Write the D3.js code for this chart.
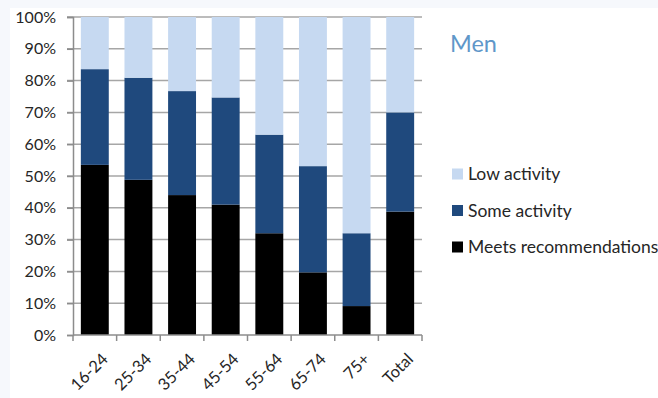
<!DOCTYPE html>
<html>
<head>
<meta charset="utf-8">
<script src="https://cdn.jsdelivr.net/npm/d3@7"></script>
<style>
  body { margin: 0; background: #f6f8fc; }
  svg { display: block; }
  text { font-family: Lato, "Open Sans", sans-serif; fill: #262626; }
</style>
</head>
<body>
<svg width="658" height="398"></svg>
<script>
// chart values
let categories = ["16-24", "25-34", "35-44", "45-54", "55-64", "65-74", "75+", "Total"];
let meets = [53.5, 48.8, 44.0, 41.0, 32.0, 19.7, 9.1, 38.8];
let some = [30.1, 32.1, 32.7, 33.7, 31.0, 33.4, 22.9, 31.2];
let low = [16.4, 19.1, 23.3, 25.3, 37.0, 46.9, 68.0, 30.0];
let seriesNames = ["Meets recommendations", "Some activity", "Low activity"];
let yTicks = [0, 10, 20, 30, 40, 50, 60, 70, 80, 90, 100];
let title = "Men";

let svg = d3.select("svg"),
    margin = { top: 17, left: 73 },
    width = 349,
    height = 318;

// white chart area
svg.append("rect").attr("x", 10).attr("y", 8).attr("width", 648).attr("height", 390).attr("fill", "#fff");
let g = svg.append("g").attr("transform", "translate(" + margin.left + "," + margin.top + ")");

let colors = d3.scaleOrdinal()
    .domain(seriesNames)
    .range(["#000000", "#1f497d", "#c6d9f1"]);

let data = categories.map(function (c, i) {
    return { cat: c, "Meets recommendations": meets[i], "Some activity": some[i], "Low activity": low[i] };
});
let stacked = d3.stack().keys(seriesNames)(data);

let x = d3.scaleBand().domain(categories).range([0, width]).paddingInner(0.36).paddingOuter(0.18);
let y = d3.scaleLinear().domain([0, 100]).range([height, 0]);

// gridlines
g.selectAll(".grid")
    .data(yTicks.slice(1))
    .enter().append("line")
    .attr("x1", -6).attr("x2", width)
    .attr("y1", d => y(d)).attr("y2", d => y(d))
    .attr("stroke", "#a6a6a6").attr("stroke-width", 1.5);

// bars
g.selectAll(".layer")
    .data(stacked)
    .enter().append("g")
    .attr("fill", d => colors(d.key))
    .selectAll("rect")
    .data(d => d)
    .enter().append("rect")
    .attr("x", d => x(d.data.cat))
    .attr("width", x.bandwidth())
    .attr("y", d => y(d[1]))
    .attr("height", d => y(d[0]) - y(d[1]));

// y axis
let yAxis = g.append("g")
    .call(d3.axisLeft(y).tickValues(yTicks).tickFormat(d => d + "%").tickSize(6).tickPadding(11));
yAxis.select(".domain").attr("stroke", "#8c8c8c").attr("stroke-width", 1.5);
yAxis.selectAll(".tick line").attr("stroke", "#8c8c8c").attr("stroke-width", 1.5);
yAxis.selectAll(".tick text").style("font-size", "16px").style("font-family", "Lato, sans-serif").attr("fill", "#262626");

// x axis with ticks at category boundaries
let xAxisG = g.append("g").attr("transform", "translate(0," + height + ")");
xAxisG.append("line").attr("x1", 0).attr("x2", width).attr("stroke", "#8c8c8c").attr("stroke-width", 1.5);
xAxisG.selectAll(".xt")
    .data(d3.range(categories.length + 1))
    .enter().append("line")
    .attr("x1", d => d * width / categories.length)
    .attr("x2", d => d * width / categories.length)
    .attr("y1", 0).attr("y2", 6)
    .attr("stroke", "#8c8c8c").attr("stroke-width", 1.5);
xAxisG.selectAll(".xl")
    .data(categories)
    .enter().append("text")
    .attr("transform", d => "translate(" + (x(d) + x.bandwidth() / 2 + 6) + ",17) rotate(-45)")
    .attr("text-anchor", "end")
    .attr("dy", "0.7em")
    .style("font-size", "16.5px")
    .text(d => d);

// title
svg.append("text")
    .attr("x", 450).attr("y", 52)
    .style("font-size", "23.5px")
    .style("fill", "#5f97c9")
    .text(title);

// legend
let legend = svg.append("g")
    .selectAll("g")
    .data(seriesNames.slice().reverse())
    .enter().append("g")
    .attr("transform", (d, i) => "translate(452," + (174 + i * 36.5) + ")");
legend.append("rect")
    .attr("y", -5.5).attr("width", 11).attr("height", 11)
    .attr("fill", d => colors(d));
legend.append("text")
    .attr("x", 16).attr("dy", "0.35em")
    .style("font-size", "17.5px")
    .text(d => d);
</script>
</body>
</html>
